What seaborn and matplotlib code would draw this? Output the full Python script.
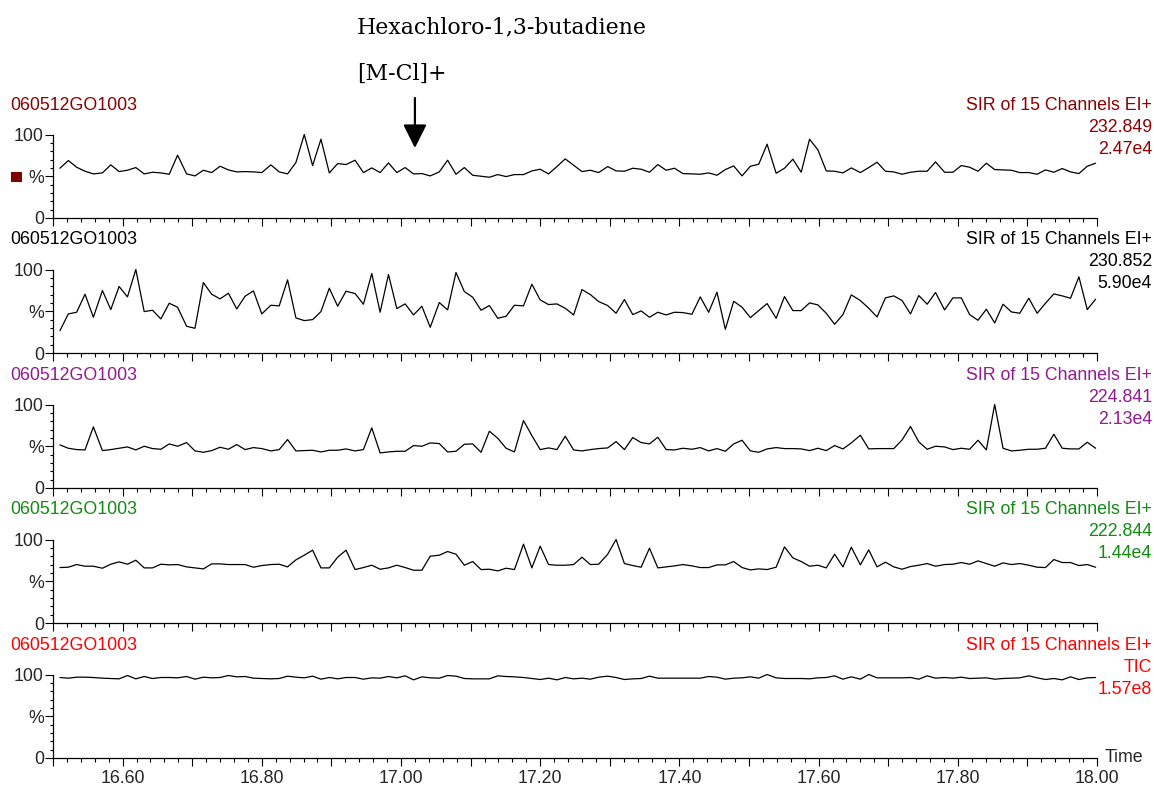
import matplotlib
matplotlib.use("Agg")
import matplotlib.pyplot as plt
import seaborn as sns
import pandas as pd
from matplotlib.ticker import MultipleLocator, FixedLocator, FuncFormatter
from matplotlib.patches import Rectangle

# ---------------- data ----------------
scan_time = [
    16.510, 16.522, 16.534, 16.546, 16.558, 16.571, 16.583, 16.595, 16.607, 16.619,
    16.631, 16.643, 16.655, 16.667, 16.679, 16.692, 16.704, 16.716, 16.728, 16.740,
    16.752, 16.764, 16.776, 16.788, 16.800, 16.813, 16.825, 16.837, 16.849, 16.861,
    16.873, 16.885, 16.897, 16.909, 16.921, 16.934, 16.946, 16.958, 16.970, 16.982,
    16.994, 17.006, 17.018, 17.030, 17.042, 17.055, 17.067, 17.079, 17.091, 17.103,
    17.115, 17.127, 17.139, 17.151, 17.163, 17.176, 17.188, 17.200, 17.212, 17.224,
    17.236, 17.248, 17.260, 17.272, 17.284, 17.297, 17.309, 17.321, 17.333, 17.345,
    17.357, 17.369, 17.381, 17.393, 17.405, 17.418, 17.430, 17.442, 17.454, 17.466,
    17.478, 17.490, 17.502, 17.514, 17.526, 17.539, 17.551, 17.563, 17.575, 17.587,
    17.599, 17.611, 17.623, 17.635, 17.647, 17.660, 17.672, 17.684, 17.696, 17.708,
    17.720, 17.732, 17.744, 17.756, 17.768, 17.781, 17.793, 17.805, 17.817, 17.829,
    17.841, 17.853, 17.865, 17.877, 17.889, 17.902, 17.914, 17.926, 17.938, 17.950,
    17.962, 17.974, 17.986, 17.998,
]

mz_232_849 = [
    59.6, 68.8, 60.8, 56, 52.8, 54, 63.6, 55.6, 57.2, 60.4,
    52.8, 54.8, 54, 52.4, 75.2, 52.8, 50.4, 57.2, 54.4, 62,
    57.6, 55.2, 55.6, 55.2, 54.4, 63.6, 55.2, 52.8, 66.4, 100,
    62.8, 94.4, 54, 65.2, 64, 69.2, 54.4, 60, 54.4, 66,
    54.4, 60.4, 52.8, 53.2, 50.4, 55.2, 69.2, 52.4, 60.4, 51.2,
    50, 48.8, 52, 49.6, 52, 52, 56.4, 58.4, 52.8, 61.6,
    70.8, 63.2,
    55.6, 57.2, 54.4, 61.6, 56.4, 56, 59.6, 58.4, 54.8, 64,
    57.2, 59.6, 53.2, 52.8, 52.4, 54, 51.2, 58, 62.4, 50.4,
    62, 64.4, 88.4, 53.6, 59.6, 70.4, 54.8, 94.4, 81.6, 56.4,
    56, 54, 60, 54.4, 60.4, 66.8, 56, 55.2, 52.4, 54.8,
    56, 56, 67.2, 54.8, 54.8, 62.8, 60.8, 56, 65.6, 58,
    57.6, 57.2, 54.4, 54.4, 52.4, 57.6, 54.8, 59.2, 55.2, 53.2,
    62, 65.6,
]

mz_230_852 = [
    26.8, 46.8, 48.8, 70.4, 42.8, 74.8, 52, 79.6, 67.2, 100,
    49.6, 51.2, 40.8, 59.6, 54.8, 32, 29.6, 84.4, 70.4, 64.8,
    71.6, 52.8, 68, 74.4, 46.8, 57.2, 56.4, 87.6, 42, 38.8,
    40, 49.6, 77.6, 56, 74, 71.2, 58.4, 95.2, 48.8, 94,
    53.2, 58.8, 45.6, 56, 30.8, 60.4, 51.6, 96.4, 73.6, 66.8,
    51.2, 56.8, 41.6, 44, 57.2, 56.4, 82.4, 63.6, 58, 58.8,
    53.6, 45.6,
    76, 70, 61.6, 56.8, 47.6, 64, 46, 50.4, 42.8, 48.8,
    45.6, 48.8, 48.4, 46.4, 67.2, 48.8, 72.8, 28.4, 62, 54.8,
    42.4, 50.8, 59.2, 41.6, 67.6, 50.8, 50.8, 60, 57.6, 47.6,
    34.4, 46, 69.6, 62.8, 53.6, 43.2, 66, 68.4, 62.8, 46.8,
    68.8, 58.4, 72.4, 51.6, 66, 66, 46, 39.2, 52.4, 36,
    58.4, 49.2, 47.6, 65.6, 47.6, 59.6, 70.8, 68.4, 65.6, 91.2,
    52, 64.4,
]

mz_224_841 = [
    51.6, 47.6, 46, 45.6, 73.2, 44.8, 46, 47.6, 49.2, 45.6,
    50, 47.2, 46.4, 52.8, 50, 54.4, 44.4, 42.8, 44.8, 48.8,
    46.4, 52, 46, 48.4, 47.2, 44.4, 46, 58, 44.4, 44.8,
    45.2, 43.2, 45.2, 45.2, 46.8, 44.4, 46, 72, 42, 43.2,
    44, 44, 50.8, 50, 54, 53.2, 43.2, 44, 52.4, 52.8,
    42.8, 68, 59.6, 47.6, 43.2, 80.8, 62.8, 46, 48, 46,
    62, 45.6,
    44.4, 46, 47.2, 48, 55.6, 46, 60.4, 54.4, 52.8, 60.8,
    46, 45.6, 47.6, 46.4, 48.4, 44.4, 47.2, 44, 52.8, 57.2,
    44.4, 42.8, 46.8, 48.4, 47.2, 47.2, 46.8, 44.8, 47.6, 44.8,
    50.8, 46.8, 54, 63.2, 46.8, 47.2, 47.2, 47.2, 57.6, 73.6,
    55.2, 46.4, 50, 49.2, 46, 47.6, 46.4, 57.2, 45.6, 100,
    47.6, 44.4, 45.2, 46.4, 46.4, 47.6, 64.4, 47.6, 46.8, 46.8,
    54.8, 47.6,
]

mz_222_844 = [
    66.4, 66.8, 70, 68, 68, 65.6, 70.4, 73.2, 70.4, 75.2,
    66, 66, 70.4, 69.6, 70, 67.2, 66, 64.8, 70.8, 70.8,
    70, 70, 70, 66.8, 68.8, 70, 70.4, 67.2, 75.6, 81.2,
    87.2, 66, 66, 78.8, 87.2, 64, 66.4, 69.2, 64.4, 66,
    69.2, 66.4, 63.2, 63.2, 80, 81.2, 85.6, 82.4, 69.2, 73.6,
    64, 64.4, 62.4, 65.6, 64, 94.4, 66, 92, 70, 69.2,
    69.2, 70,
    78.8, 70, 70.4, 82.4, 100, 71.2, 68.8, 66.8, 89.6, 66,
    67.2, 68.4, 70, 68.4, 66.4, 66.4, 69.6, 69.6, 73.6, 66.4,
    63.6, 64.8, 64, 66.8, 91.2, 78, 73.6, 68, 69.2, 66,
    82.4, 67.2, 90.8, 69.6, 87.6, 67.2, 72.8, 67.2, 64.4, 67.6,
    69.2, 71.2, 68, 70, 70.4, 72.4, 70.4, 74.4, 71.2, 68,
    72, 70, 71.2, 69.2, 66.8, 66.4, 76, 72.4, 72.4, 68.8,
    70, 66.8,
]

tic = [
    96.4, 95.6, 96.8, 96.8, 96.4, 95.6, 95.2, 94.8, 98.8, 94.8,
    97.6, 95.2, 96.4, 96.4, 96, 97.6, 94.4, 96.8, 96, 96.4,
    98.8, 97.2, 97.6, 95.6, 95.2, 94.8, 95.2, 98, 96.8, 96,
    98, 94.4, 96.4, 94.8, 96.4, 96.4, 94.4, 96, 95.6, 97.6,
    96, 98.4, 93.6, 97.2, 96, 95.6, 98.8, 98, 95.2, 94.8,
    94.8, 94.8, 98.4, 97.6, 97.2, 96.4, 95.2, 94, 95.6, 93.6,
    96.4, 94.8,
    95.6, 94.4, 96.8, 98, 96.4, 94, 94.8, 95.2, 98, 95.6,
    95.6, 95.6, 95.6, 95.6, 95.6, 97.6, 96.8, 94.4, 95.6, 96,
    97.2, 95.6, 100, 96, 95.2, 95.2, 95.2, 94.8, 96, 96.4,
    98.4, 94.4, 97.2, 94.4, 100, 96, 96, 96, 96, 96.4,
    94.4, 98.4, 95.6, 96.4, 95.6, 96.8, 95.2, 95.6, 96, 94.4,
    95.2, 95.6, 96, 98.4, 96, 94, 95.2, 93.6, 97.2, 94,
    96, 96.4,
]

sample_names = ["060512GO1003"] * 5
channel_titles = ["SIR of 15 Channels EI+"] * 5
channel_masses = ["232.849", "230.852", "224.841", "222.844", "TIC"]
channel_intensities = ["2.47e4", "5.90e4", "2.13e4", "1.44e4", "1.57e8"]
panel_colors = ["#8b0000", "#000000", "#921a92", "#138a13", "#ff0000"]
series_list = [mz_232_849, mz_230_852, mz_224_841, mz_222_844, tic]

compound_name = "Hexachloro-1,3-butadiene"
ion_label = "[M-Cl]+"
arrow_time = 17.02

# ---------------- drawing ----------------
sns.set_theme(style="white")
plt.rcParams["font.family"] = ["Liberation Sans", "DejaVu Sans"]
plt.rcParams["font.size"] = 12.8

W, H = 1154, 787
fig = plt.figure(figsize=(W / 100, H / 100), dpi=100)
fig.patch.set_facecolor("white")

x_left, x_right = 53, 1097
FS = 12.8

def xlabel_fmt(v, pos):
    k = int(round(v * 10))
    if k % 2 == 0:
        return f"{v:.2f}"
    return ""

axes = []
for k, (vals, color) in enumerate(zip(series_list, panel_colors)):
    top = 134.5 + 135 * k
    bot = 218.0 + 135 * k
    ax = fig.add_axes([x_left / W, 1 - bot / H, (x_right - x_left) / W, (bot - top) / H])
    ax.set_facecolor("none")
    df = pd.DataFrame({"time": scan_time, "value": vals})
    sns.lineplot(data=df, x="time", y="value", ax=ax, color="black",
                 linewidth=0.9, estimator=None, errorbar=None)
    for ln in ax.lines:
        ln.set_clip_on(False)
    ax.set_xlim(16.5, 18.0)
    ax.set_ylim(0, 100)
    ax.set_xlabel("")
    ax.set_ylabel("")
    for s in ("top", "right"):
        ax.spines[s].set_visible(False)
    for s in ("left", "bottom"):
        ax.spines[s].set_color("black")
        ax.spines[s].set_linewidth(0.9)
    ax.xaxis.set_major_locator(MultipleLocator(0.1))
    ax.xaxis.set_minor_locator(MultipleLocator(0.02))
    ax.yaxis.set_major_locator(FixedLocator([0, 50, 100]))
    ax.yaxis.set_minor_locator(MultipleLocator(10))
    ax.set_yticklabels(["0", "%", "100"])
    ax.tick_params(axis="x", which="major", direction="out", length=5.6, width=0.8,
                   color="black", pad=3, labelsize=FS, bottom=True)
    ax.tick_params(axis="x", which="minor", direction="out", length=2.7, width=0.8,
                   color="black", bottom=True)
    ax.tick_params(axis="y", which="major", direction="out", length=6.0, width=0.8,
                   color="black", pad=0.5, labelsize=FS, left=True)
    ax.tick_params(axis="y", which="minor", direction="out", length=2.5, width=0.8,
                   color="black", left=True)
    if k == len(series_list) - 1:
        ax.xaxis.set_major_formatter(FuncFormatter(xlabel_fmt))
    else:
        ax.tick_params(axis="x", which="both", labelbottom=False)
    ax.grid(False)

    # panel annotations
    fig.text(10 / W, 1 - (105 + 135 * k) / H, sample_names[k], color=color,
             ha="left", va="center", fontsize=FS)
    fig.text(1152 / W, 1 - (105 + 135 * k) / H, channel_titles[k], color=color,
             ha="right", va="center", fontsize=FS)
    fig.text(1152 / W, 1 - (127 + 135 * k) / H, channel_masses[k], color=color,
             ha="right", va="center", fontsize=FS)
    fig.text(1152 / W, 1 - (149 + 135 * k) / H, channel_intensities[k], color=color,
             ha="right", va="center", fontsize=FS)
    axes.append(ax)

# "Time" at the end of the bottom axis
fig.text(1105 / W, 1 - 758 / H, "Time", ha="left", va="center", fontsize=FS)

# small marker square in panel 1
fig.add_artist(Rectangle((11 / W, 1 - 182.3 / H), 10.7 / W, 10.7 / H,
                         transform=fig.transFigure, color="#800000", lw=0))

# compound annotation
serif = ["DejaVu Serif"]
fig.text(357 / W, 1 - 27 / H, compound_name, family=serif, fontsize=15.8,
         ha="left", va="center", color="black")
fig.text(357 / W, 1 - 74 / H, ion_label, family=serif, fontsize=15.8,
         ha="left", va="center", color="black")
ax0 = axes[0]
arrow_x_px = ax0.transData.transform((arrow_time, 0))[0]
ax0.annotate("", xy=(arrow_x_px, H - 148), xytext=(arrow_x_px, H - 98),
             xycoords="figure pixels", textcoords="figure pixels",
             arrowprops=dict(arrowstyle="-|>,head_length=1.0,head_width=0.5",
                             mutation_scale=14.4, color="black", lw=1.6,
                             shrinkA=0, shrinkB=0))

fig.savefig("out.png", dpi=100, facecolor="white")
